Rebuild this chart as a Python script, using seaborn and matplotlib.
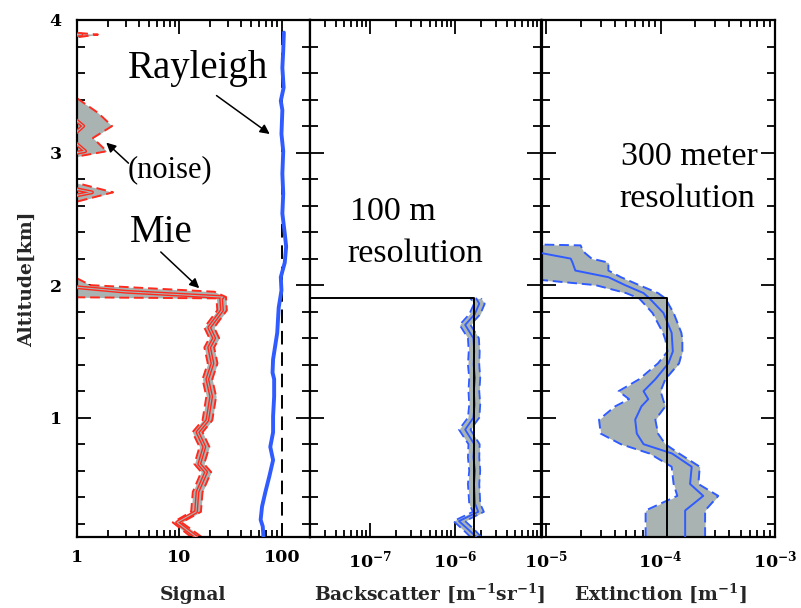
import numpy as np
import pandas as pd
import matplotlib
matplotlib.use("Agg")
import matplotlib.pyplot as plt
import seaborn as sns
from matplotlib.ticker import MultipleLocator, LogLocator, NullFormatter

# ---------------- data ----------------
# Panel 1: Mie signal (center, lower, upper) vs altitude [km]
alt_mie = [0.10, 0.21, 0.29, 0.44, 0.59, 0.65, 0.78, 0.89, 0.98, 1.16, 1.29, 1.41,
           1.53, 1.60, 1.68, 1.81, 1.90, 1.91, 1.95, 2.00, 2.06, 2.20, 2.60, 2.63,
           2.70, 2.77, 2.90, 2.97, 3.01, 3.11, 3.20, 3.30, 3.41, 3.60, 3.86, 3.89, 3.91]
mie_c = [14.6, 9.5, 14.5, 15.0, 18.2, 15.6, 17.5, 15.0, 18.7, 20.4, 18.7, 21.0,
         19.5, 21.8, 19.5, 26.0, 25.5, 26.5, 3.0, 0.6, 0.4, 0.3, 0.3, 0.5,
         1.4, 0.5, 0.3, 0.6, 1.2, 0.85, 1.15, 0.8, 0.5, 0.3, 0.4, 1.1, 0.4]
mie_lo = [13.0, 8.6, 13.0, 13.5, 16.3, 14.0, 15.7, 13.4, 16.8, 18.3, 16.8, 18.9,
          17.5, 19.6, 17.5, 23.4, 23.0, 0.5, 0.4, 0.3, 0.2, 0.2, 0.2, 0.3,
          0.9, 0.3, 0.2, 0.4, 0.8, 0.6, 0.7, 0.5, 0.3, 0.2, 0.2, 0.7, 0.2]
mie_hi = [16.5, 10.5, 16.2, 16.8, 20.4, 17.4, 19.6, 16.8, 20.9, 22.8, 20.9, 23.5,
          21.8, 24.4, 21.8, 29.0, 28.5, 28.5, 22.0, 1.35, 0.95, 0.5, 0.5, 1.0,
          2.25, 1.0, 0.5, 1.0, 1.95, 1.43, 2.2, 1.6, 1.0, 0.5, 0.8, 1.6, 0.8]

# Panel 1: Rayleigh signal and reference
alt_ray = [0.105, 0.18, 0.23, 0.33, 0.44, 0.56, 0.68, 0.78, 0.89, 1.01, 1.16, 1.29,
           1.34, 1.44, 1.64, 1.83, 1.96, 2.06, 2.17, 2.29, 2.39, 2.54, 2.69, 2.84,
           3.01, 3.14, 3.32, 3.39, 3.49, 3.64, 3.77, 3.905]
ray = [66, 65, 62, 64, 69, 75.5, 82, 77, 82, 82, 84, 84,
       81, 82, 90, 93, 99, 97.5, 106.6, 110, 106.6, 101, 103, 101,
       103, 99, 101, 97.5, 104, 101, 103, 104.5]
ray_ref = 100.0
ray_ref_alt = [0.1, 3.9]

# Panel 2: Backscatter [m^-1 sr^-1]
alt_bsc = [0.10, 0.15, 0.22, 0.29, 0.35, 0.50, 0.60, 0.70, 0.80, 0.91, 1.00, 1.10,
           1.20, 1.30, 1.40, 1.50, 1.60, 1.70, 1.78, 1.86, 1.90]
bsc_c = [1.75e-6, 1.45e-6, 1.1e-6, 1.85e-6, 1.7e-6, 1.65e-6, 1.7e-6, 1.62e-6, 1.66e-6,
         1.3e-6, 1.62e-6, 1.68e-6, 1.64e-6, 1.7e-6, 1.63e-6, 1.66e-6, 1.62e-6, 1.3e-6,
         1.68e-6, 1.9e-6, 1.75e-6]
bsc_lo = [1.5e-6, 1.25e-6, 0.95e-6, 1.6e-6, 1.45e-6, 1.4e-6, 1.45e-6, 1.4e-6, 1.42e-6,
          1.1e-6, 1.4e-6, 1.45e-6, 1.42e-6, 1.45e-6, 1.4e-6, 1.43e-6, 1.4e-6, 1.12e-6,
          1.45e-6, 1.65e-6, 1.5e-6]
bsc_hi = [2.0e-6, 1.7e-6, 1.3e-6, 2.15e-6, 1.95e-6, 1.9e-6, 1.95e-6, 1.9e-6, 1.92e-6,
          1.5e-6, 1.9e-6, 1.95e-6, 1.9e-6, 1.95e-6, 1.9e-6, 1.92e-6, 1.88e-6, 1.5e-6,
          1.95e-6, 2.2e-6, 2.0e-6]
bsc_layer_value = 1.65e-6

# Panel 3: Extinction [m^-1]
alt_ext = [0.10, 0.30, 0.41, 0.50, 0.63, 0.73, 0.80, 0.88, 0.985, 1.085, 1.14, 1.20,
           1.29, 1.41, 1.50, 1.59, 1.64, 1.79, 1.90, 1.94, 2.00, 2.06, 2.11, 2.17,
           2.20, 2.24, 2.26, 2.30, 2.31]
ext_c = [1.64e-4, 1.64e-4, 2.36e-4, 1.81e-4, 1.87e-4, 1.26e-4, 7.1e-5, 6.2e-5, 6.0e-5,
         6.8e-5, 7.8e-5, 7.1e-5, 9.0e-5, 1.17e-4, 1.28e-4, 1.26e-4, 1.25e-4, 1.06e-4,
         8.0e-5, 7.1e-5, 4.9e-5, 3.5e-5, 1.8e-5, 1.7e-5, 1.64e-5, 9.3e-6, 5e-6, 5e-6, 5e-6]
ext_lo = [7.4e-5, 7.4e-5, 1.4e-4, 1.3e-4, 1.25e-4, 8.0e-5, 4.5e-5, 3.0e-5, 2.9e-5,
          4.0e-5, 5.3e-5, 4.3e-5, 6.5e-5, 9.5e-5, 1.15e-4, 1.1e-4, 1.05e-4, 8.5e-5,
          6.5e-5, 5.0e-5, 2.7e-5, 5e-6, 5e-6, 5e-6, 5e-6, 5e-6, 5e-6, 5e-6, 5e-6]
ext_hi = [2.45e-4, 2.45e-4, 3.19e-4, 2.14e-4, 2.2e-4, 1.45e-4, 1.1e-4, 9.5e-5, 9.0e-5,
          1.1e-4, 1.05e-4, 1.0e-4, 1.1e-4, 1.45e-4, 1.55e-4, 1.55e-4, 1.52e-4, 1.3e-4,
          1.1e-4, 9.5e-5, 6.5e-5, 4.5e-5, 3.5e-5, 3.5e-5, 2.5e-5, 2.2e-5, 2.1e-5, 2.0e-5, 5e-6]
ext_layer_value = 1.13e-4
layer_top = 1.9
alt_bottom = 0.1

# ---------------- style ----------------
sns.set_theme(style="ticks")
plt.rcParams.update({
    "font.family": ["DejaVu Serif"],
    "font.weight": "bold",
    "mathtext.fontset": "dejavuserif",
    "mathtext.default": "bf",
    "axes.linewidth": 1.6,
    "axes.edgecolor": "black",
})

RED = "#ff2a1e"
BLUE = "#2f5bff"
GRAY = "#a9b3b2"
DASH = (0, (5, 2.5))

W, H = 801, 608
fig = plt.figure(figsize=(W / 100, H / 100), dpi=100)


def fax(x0, x1):
    return fig.add_axes([x0 / W, 1 - 537 / H, (x1 - x0) / W, 517 / H])


ax1 = fax(77, 310)
ax2 = fax(310, 541)
ax3 = fax(542, 775)


def line(ax, x, y, **kw):
    df = pd.DataFrame({"x": x, "y": y})
    sns.lineplot(data=df, x="x", y="y", orient="y", sort=False, estimator=None,
                 ax=ax, **kw)


def band(ax, alt, lo, c, hi, color, lw=1.4, double=False):
    ax.fill_betweenx(alt, lo, hi, color=GRAY, lw=0, zorder=1)
    line(ax, lo, alt, color=color, lw=lw, linestyle=DASH, zorder=2)
    line(ax, hi, alt, color=color, lw=lw, linestyle=DASH, zorder=2)
    if double:
        line(ax, c, alt, color=color, lw=2.8, zorder=3)
        line(ax, c, alt, color=GRAY, lw=0.8, zorder=4)
    else:
        line(ax, c, alt, color=color, lw=lw, zorder=3)


for ax in (ax1, ax2, ax3):
    ax.set_xscale("log")

# Panel 1
band(ax1, alt_mie, mie_lo, mie_c, mie_hi, RED, lw=1.4, double=True)
line(ax1, [ray_ref, ray_ref], ray_ref_alt, color="black", lw=1.4,
     linestyle=(0, (7, 4)), zorder=3)
line(ax1, ray, alt_ray, color=BLUE, lw=2.8, zorder=4)
ax1.set_xlim(1, 188)

# Panel 2
band(ax2, alt_bsc, bsc_lo, bsc_c, bsc_hi, BLUE, lw=1.3)
line(ax2, [2e-8, bsc_layer_value, bsc_layer_value], [layer_top, layer_top, alt_bottom],
     color="black", lw=1.4, zorder=5)
ax2.set_xlim(2e-8, 1e-5)

# Panel 3
band(ax3, alt_ext, ext_lo, ext_c, ext_hi, BLUE, lw=1.4)
line(ax3, [5e-6, ext_layer_value, ext_layer_value], [layer_top, layer_top, alt_bottom],
     color="black", lw=1.4, zorder=5)
ax3.set_xlim(9.2e-6, 1e-3)

for ax in (ax1, ax2, ax3):
    ax.set_ylim(0.1, 4)
    ax.yaxis.set_major_locator(MultipleLocator(1))
    ax.yaxis.set_minor_locator(MultipleLocator(0.2))
    ax.xaxis.set_minor_locator(LogLocator(base=10, subs=np.arange(2, 10)))
    ax.xaxis.set_minor_formatter(NullFormatter())
    ax.tick_params(which="both", direction="in", top=True, right=True,
                   width=1.3, colors="black", labelsize=12.5)
    ax.tick_params(axis="x", which="major", length=10, pad=9)
    ax.tick_params(axis="x", which="minor", length=5)
    ax.tick_params(axis="y", which="major", length=10, pad=11)
    ax.tick_params(axis="y", which="minor", length=6)
    ax.set_xlabel("")
    ax.set_ylabel("")
    for s in ax.spines.values():
        s.set_linewidth(1.6)

ax1.set_xticks([1, 10, 100], ["1", "10", "100"])
ax2.set_xticks([1e-7, 1e-6, 1e-5], [r"$10^{-7}$", r"$10^{-6}$", ""])
ax3.set_xticks([1e-5, 1e-4, 1e-3], [r"$10^{-5}$", r"$10^{-4}$", r"$10^{-3}$"])
ax1.set_yticks([1, 2, 3, 4], ["1", "2", "3", "4"])
ax2.tick_params(labelleft=False)
ax3.tick_params(labelleft=False)

# axis titles placed on a common baseline
lab = dict(fontsize=13.5, fontweight="bold", ha="center", va="baseline")
fig.text(193 / W, 1 - 600 / H, "Signal", **lab)
fig.text(430 / W, 1 - 600 / H, r"Backscatter [m$^{-1}$sr$^{-1}$]", **lab)
fig.text(660 / W, 1 - 600 / H, r"Extinction [m$^{-1}$]", **lab)
fig.text(27 / W, 1 - 279 / H, "Altitude[km]", fontsize=13.5, fontweight="bold",
         rotation=90, ha="center", va="center")

# ---------------- annotations ----------------
serif = dict(family="Liberation Serif", fontweight="normal", color="black")


def ftext(px, py, s, size):
    fig.text(px / W, 1 - py / H, s, fontsize=size, ha="left", va="baseline", **serif)


ftext(128, 78, "Rayleigh", 28)
ftext(128, 177, "(noise)", 22)
ftext(130, 242, "Mie", 28)
ftext(350, 220, "100 m", 24.5)
ftext(347, 262, "resolution", 24.5)
ftext(621, 165, "300 meter", 24.5)
ftext(619, 207, "resolution", 24.5)

arrow = dict(arrowstyle="-|>", color="black", lw=1.1, mutation_scale=14,
             shrinkA=0, shrinkB=0)
ax1.annotate("", xy=(76, 3.14), xytext=(23, 3.43), arrowprops=arrow)
ax1.annotate("", xy=(1.93, 3.075), xytext=(3.18, 2.92), arrowprops=arrow)
ax1.annotate("", xy=(15.6, 1.977), xytext=(6.57, 2.25), arrowprops=arrow)

fig.savefig("out.png", dpi=100)
